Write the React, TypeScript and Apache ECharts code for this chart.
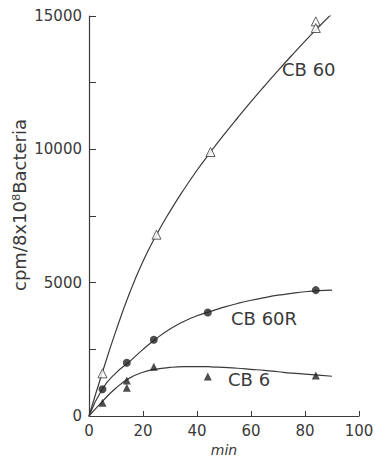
import React, { useEffect, useRef } from "react";
import * as echarts from "echarts";

// Measured points
const cb60Min = [5, 25, 45, 84, 84];
const cb60Val = [1600, 6800, 9900, 14800, 14550];
const cb60rMin = [5, 14, 24, 44, 84];
const cb60rVal = [1000, 2000, 2860, 3880, 4720];
const cb6Min = [5, 14, 14, 24, 44, 84];
const cb6Val = [500, 1330, 1060, 1850, 1480, 1520];

// Fitted curves
const curveMin = [0, 5, 10, 15, 20, 25, 30, 35, 40, 45, 50, 55, 60, 65, 70, 75, 80, 85, 90];
const cb60CurveVal = [0, 1650, 3200, 4600, 5800, 6800, 7675, 8475, 9215, 9900, 10550, 11175, 11785, 12375, 12950, 13510, 14060, 14585, 15085];
const cb60rCurveVal = [0, 1020, 1620, 2040, 2500, 2910, 3260, 3540, 3760, 3920, 4080, 4220, 4340, 4440, 4530, 4600, 4660, 4700, 4720];
const cb6CurveVal = [0, 550, 1050, 1420, 1640, 1760, 1820, 1850, 1855, 1845, 1820, 1790, 1750, 1710, 1660, 1610, 1570, 1530, 1490];

const xTicks = [0, 20, 40, 60, 80, 100];
const yTicks = [0, 5000, 10000, 15000];

const zip = (a: number[], b: number[]) => a.map((v, i) => [v, b[i]]);

const INK = "#3a3a3a";
const FONT = "DejaVu Sans";

export default function App() {
  const ref = useRef<HTMLDivElement>(null);
  useEffect(() => {
    if (!ref.current) return;
    const chart = echarts.init(ref.current, null, { renderer: "svg" });
    const curve = (d: number[][]) => ({
      type: "line",
      data: d,
      smooth: true,
      showSymbol: false,
      symbol: "none",
      lineStyle: { color: INK, width: 1.2 },
      silent: true,
      z: 2,
    });
    chart.setOption({
      animation: false,
      backgroundColor: "#ffffff",
      grid: { left: 89, right: 16, top: 16, bottom: 40, containLabel: false, outerBoundsMode: "none" },
      xAxis: {
        type: "value",
        min: xTicks[0],
        max: xTicks[xTicks.length - 1],
        interval: 20,
        name: "min",
        nameLocation: "middle",
        nameGap: 19,
        nameTextStyle: {
          fontFamily: FONT,
          fontSize: 14,
          fontStyle: "italic",
          color: INK,
          lineHeight: 14,
        },
        axisLine: { lineStyle: { color: INK, width: 1.2 } },
        axisTick: { inside: true, length: 5, lineStyle: { color: INK } },
        axisLabel: { fontFamily: FONT, fontSize: 15, color: INK, margin: 7 },
        splitLine: { show: false },
      },
      yAxis: {
        type: "value",
        min: yTicks[0],
        max: yTicks[yTicks.length - 1],
        interval: 5000,
        axisLine: { show: true, lineStyle: { color: INK, width: 1.2 } },
        axisTick: { inside: true, length: 7, lineStyle: { color: INK } },
        minorTick: { show: true, splitNumber: 2, length: 7, lineStyle: { color: INK } },
        axisLabel: {
          fontFamily: FONT,
          fontSize: 15,
          color: INK,
          margin: 7,
          formatter: (v: number) => String(v),
        },
        splitLine: { show: false },
      },
      series: [
        curve(zip(curveMin, cb60CurveVal)),
        curve(zip(curveMin, cb60rCurveVal)),
        curve(zip(curveMin, cb6CurveVal)),
        {
          type: "scatter",
          name: "CB 60",
          data: zip(cb60Min, cb60Val),
          symbol: "triangle",
          symbolSize: 9,
          itemStyle: { color: "#ffffff", borderColor: INK, borderWidth: 1 },
          z: 3,
        },
        {
          type: "scatter",
          name: "CB 60R",
          data: zip(cb60rMin, cb60rVal),
          symbol: "circle",
          symbolSize: 8,
          itemStyle: { color: "#222" },
          z: 3,
        },
        {
          type: "scatter",
          name: "CB 6",
          data: zip(cb6Min, cb6Val),
          symbol: "triangle",
          symbolSize: 8,
          itemStyle: { color: "#222" },
          z: 3,
        },
      ],
      graphic: [
        {
          type: "text",
          x: 19,
          y: 205,
          rotation: Math.PI / 2,
          style: {
            text: "cpm/8x10⁸Bacteria",
            font: `18px "${FONT}"`,
            fill: INK,
            align: "center",
            verticalAlign: "middle",
          },
        },
        { type: "text", left: 282, top: 60, style: { text: "CB 60", font: `18px "${FONT}"`, fill: INK } },
        { type: "text", left: 231, top: 309, style: { text: "CB 60R", font: `18px "${FONT}"`, fill: INK } },
        { type: "text", left: 228, top: 370, style: { text: "CB 6", font: `18px "${FONT}"`, fill: INK } },
      ],
    });
    return () => chart.dispose();
  }, []);
  return (
    <div
      ref={ref}
      style={{ position: "fixed", left: 0, top: 0, width: 375, height: 456, background: "#fff" }}
    />
  );
}
